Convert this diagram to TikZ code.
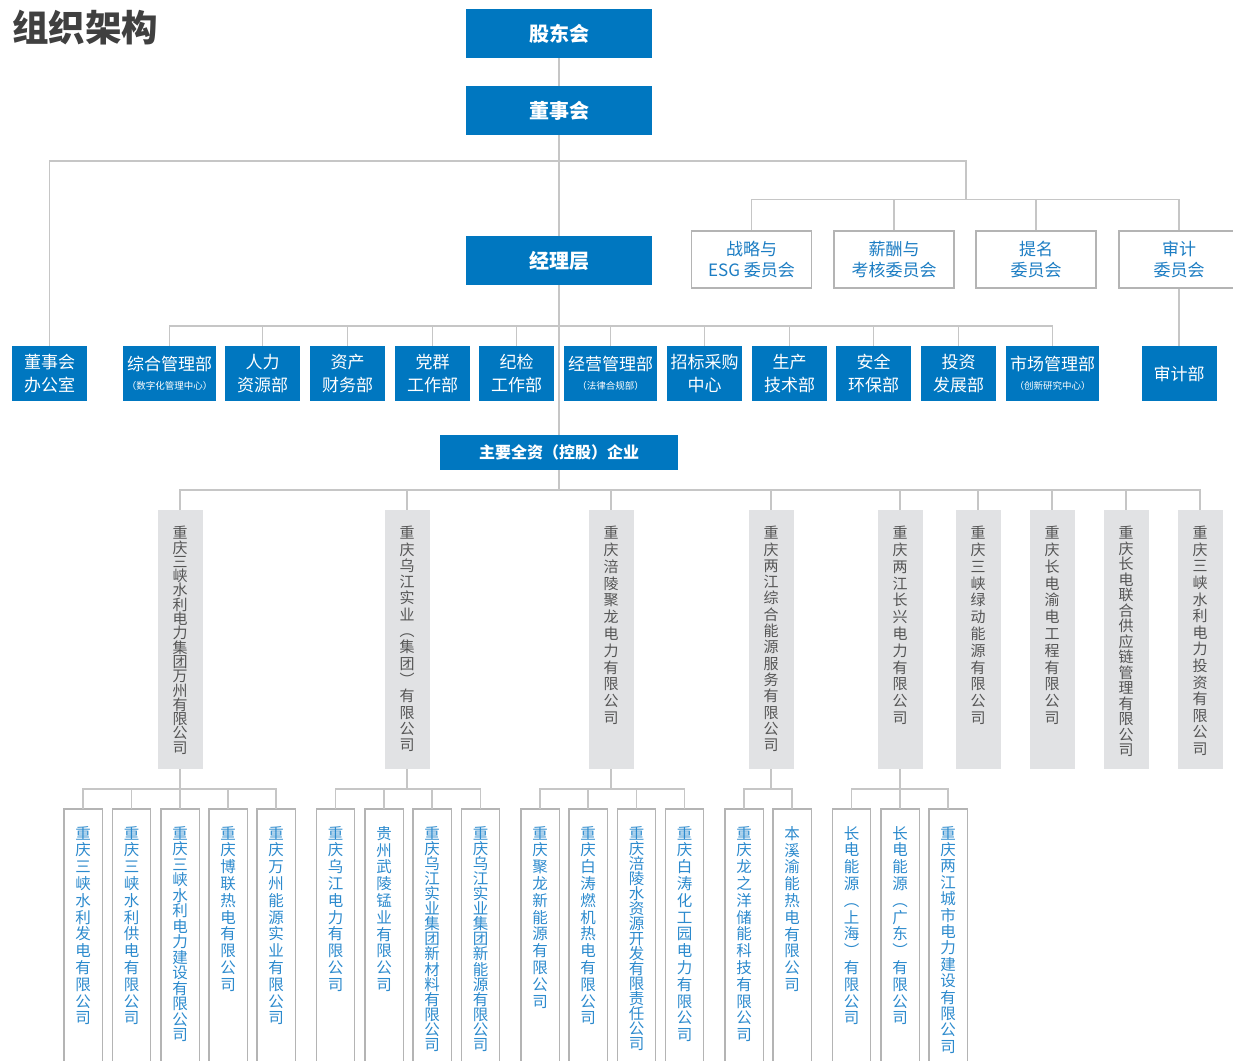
\documentclass[tikz,border=0pt]{standalone}
\usepackage{fontspec}
\setmainfont{Noto Sans CJK SC}
\definecolor{cblue}{HTML}{0077C0}
\definecolor{linegray}{HTML}{C6C6C6}
\definecolor{boxgray}{HTML}{B4B4B4}
\definecolor{ctext}{HTML}{1C7DC3}
\definecolor{subgray}{HTML}{E1E2E4}
\definecolor{subtext}{HTML}{555555}
\definecolor{bottext}{HTML}{2C8ACD}
\definecolor{titlegray}{HTML}{404040}
\def\vtloop#1{\ifx#1\relax\else\hbox to 1em{\hss#1\hss}\expandafter\vtloop\fi}
\newcommand\vtchars[1]{\vtloop#1\relax}
\newcommand\subtxt[2][16.8pt]{\vbox to 259pt{\vskip 16pt\baselineskip=#1\lineskiplimit=-20pt\lineskip=0pt\vtchars{#2}\vss}}
\newcommand\bottxt[2][16.8pt]{\vbox to 260pt{\vskip 17pt\baselineskip=#1\lineskiplimit=-20pt\lineskip=0pt\vtchars{#2}\vss}}
\begin{document}
\begin{tikzpicture}[x=1pt,y=-1pt,
  conn/.style={draw=linegray, line width=1.4pt},
  bluebox/.style={fill=cblue, text=white, inner sep=0pt, align=center},
  topbox/.style={bluebox, minimum width=186pt, minimum height=49pt, font=\bfseries\fontsize{20}{24}\selectfont},
  deptbox/.style={bluebox, minimum height=55pt, font=\fontsize{17}{23}\selectfont},
  commbox/.style={draw=boxgray, line width=1.4pt, fill=white, text=ctext, minimum width=120pt, minimum height=57pt, inner sep=0pt, align=center, font=\fontsize{17}{21}\selectfont},
  subbox/.style={anchor=north, fill=subgray, text=subtext, inner sep=0pt, minimum width=45pt, font=\fontsize{15}{16}\selectfont},
  botbox/.style={anchor=north, text=bottext, inner sep=0pt, minimum width=38pt, font=\fontsize{15.5}{16}\selectfont},
  botline/.style={draw=boxgray, line width=1.4pt},
  small/.style={font=\fontsize{9.5}{10}\selectfont}
]
\useasboundingbox (0,0) rectangle (1233,1060);

% title
\node[anchor=base west, font=\bfseries\fontsize{36.5}{40}\selectfont, text=titlegray, inner sep=0pt] (title) at (12,41.5) {组织架构};

% top boxes
\node[topbox] (gdh) at (559,33.5) {股东会};
\node[topbox] (dsh) at (559,110.5) {董事会};
\node[topbox] (jlc) at (559,260.5) {经理层};

% committees
\node[commbox] (c1) at (751.5,259.5) {战略与\\ESG 委员会};
\node[commbox] (c2) at (894,259.5) {薪酬与\\考核委员会};
\node[commbox] (c3) at (1036,259.5) {提名\\委员会};
\node[commbox] (c4) at (1179,259.5) {审计\\委员会};

% departments
\node[deptbox, minimum width=75pt] (d0) at (49.5,373.5) {董事会\\办公室};
\node[deptbox, minimum width=93pt] (d1) at (169.5,373.5) {综合管理部\\[-4pt]{\fontsize{9.5}{10}\selectfont（数字化管理中心）}};
\node[deptbox, minimum width=75pt] (d2) at (262.5,373.5) {人力\\资源部};
\node[deptbox, minimum width=75pt] (d3) at (347.5,373.5) {资产\\财务部};
\node[deptbox, minimum width=75pt] (d4) at (432.5,373.5) {党群\\工作部};
\node[deptbox, minimum width=75pt] (d5) at (516.5,373.5) {纪检\\工作部};
\node[deptbox, minimum width=93pt] (d6) at (610.5,373.5) {经营管理部\\[-4pt]{\fontsize{9.5}{10}\selectfont（法律合规部）}};
\node[deptbox, minimum width=75pt] (d7) at (704.5,373.5) {招标采购\\中心};
\node[deptbox, minimum width=75pt] (d8) at (789.5,373.5) {生产\\技术部};
\node[deptbox, minimum width=75pt] (d9) at (873.5,373.5) {安全\\环保部};
\node[deptbox, minimum width=75pt] (d10) at (958.5,373.5) {投资\\发展部};
\node[deptbox, minimum width=93pt] (d11) at (1052.5,373.5) {市场管理部\\[-4pt]{\fontsize{9.5}{10}\selectfont（创新研究中心）}};
\node[deptbox, minimum width=75pt] (sjb) at (1179,373.5) {审计部};

% main enterprises
\node[bluebox, minimum width=238pt, minimum height=35pt, font=\bfseries\fontsize{16}{18}\selectfont] (zy) at (559,452.5) {主要全资（控股）企业};

% subsidiaries
\node[subbox] (s1) at (180,510) {\subtxt[14.3pt]{重庆三峡水利电力集团万州有限公司}};
\node[subbox] (s2) at (407,510) {\subtxt[16.3pt]{重庆乌江实业︵集团︶有限公司}};
\node[subbox] (s3) at (611,510) {\subtxt{重庆涪陵聚龙电力有限公司}};
\node[subbox] (s4) at (771,510) {\subtxt[16.3pt]{重庆两江综合能源服务有限公司}};
\node[subbox] (s5) at (900,510) {\subtxt{重庆两江长兴电力有限公司}};
\node[subbox] (s6) at (978,510) {\subtxt{重庆三峡绿动能源有限公司}};
\node[subbox] (s7) at (1052,510) {\subtxt{重庆长电渝电工程有限公司}};
\node[subbox] (s8) at (1126,510) {\subtxt[15.5pt]{重庆长电联合供应链管理有限公司}};
\node[subbox] (s9) at (1200,510) {\subtxt[16.6pt]{重庆三峡水利电力投资有限公司}};

% bottom companies
\node[botbox] (b1) at (83,809) {\bottxt{重庆三峡水利发电有限公司}};
\node[botbox] (b2) at (131.5,809) {\bottxt{重庆三峡水利供电有限公司}};
\node[botbox] (b3) at (180,809) {\bottxt[15.5pt]{重庆三峡水利电力建设有限公司}};
\node[botbox] (b4) at (228,809) {\bottxt{重庆博联热电有限公司}};
\node[botbox] (b5) at (276,809) {\bottxt{重庆万州能源实业有限公司}};
\node[botbox] (b6) at (335.5,809) {\bottxt{重庆乌江电力有限公司}};
\node[botbox] (b7) at (384,809) {\bottxt{贵州武陵锰业有限公司}};
\node[botbox] (b8) at (432,809) {\bottxt[15.1pt]{重庆乌江实业集团新材料有限公司}};
\node[botbox] (b9) at (480.5,809) {\bottxt[15.1pt]{重庆乌江实业集团新能源有限公司}};
\node[botbox] (b10) at (540,809) {\bottxt{重庆聚龙新能源有限公司}};
\node[botbox] (b11) at (588,809) {\bottxt{重庆白涛燃机热电有限公司}};
\node[botbox] (b12) at (636.5,809) {\bottxt[15.0pt]{重庆涪陵水资源开发有限责任公司}};
\node[botbox] (b13) at (684.5,809) {\bottxt{重庆白涛化工园电力有限公司}};
\node[botbox] (b14) at (744,809) {\bottxt{重庆龙之洋储能科技有限公司}};
\node[botbox] (b15) at (792,809) {\bottxt{本溪渝能热电有限公司}};
\node[botbox] (b16) at (851.5,809) {\bottxt{长电能源︵上海︶有限公司}};
\node[botbox] (b17) at (900,809) {\bottxt{长电能源︵广东︶有限公司}};
\node[botbox] (b18) at (948,809) {\bottxt[16.4pt]{重庆两江城市电力建设有限公司}};

\foreach \b in {b1,b2,b3,b4,b5,b6,b7,b8,b9,b10,b11,b12,b13,b14,b15,b16,b17,b18}
  \draw[botline] (\b.south west) -- (\b.north west) -- (\b.north east) -- (\b.south east);

% bus coordinates
\coordinate (busB) at (966,161);
\coordinate (busC) at (966,199.5);
\coordinate (busD) at (559,326);
\coordinate (busE) at (559,490);
\coordinate (g1) at (180,789);
\coordinate (g2) at (407,789);
\coordinate (g3) at (611,789);
\coordinate (g4) at (771,789);
\coordinate (g5) at (900,789);

% connectors
\draw[conn] (gdh.south) -- (dsh.north);
\draw[conn] (dsh.south) -- (jlc.north);
\draw[conn] (d0.north) |- (busB) -- (busC);
\foreach \c in {c1,c2,c3,c4} \draw[conn] (busC) -| (\c.north);
\draw[conn] (c4.south) -- (sjb.north);
\draw[conn] (jlc.south) -- (zy.north);
\foreach \d in {d1,d2,d3,d4,d5,d6,d7,d8,d9,d10,d11} \draw[conn] (busD) -| (\d.north);
\draw[conn] (zy.south) -- (busE);
\foreach \s in {s1,s2,s3,s4,s5,s6,s7,s8,s9} \draw[conn] (busE) -| (\s.north);
\draw[conn] (s1.south) -- (g1);
\draw[conn] (s2.south) -- (g2);
\draw[conn] (s3.south) -- (g3);
\draw[conn] (s4.south) -- (g4);
\draw[conn] (s5.south) -- (g5);
\foreach \b in {b1,b2,b3,b4,b5} \draw[conn] (g1) -| (\b.north);
\foreach \b in {b6,b7,b8,b9} \draw[conn] (g2) -| (\b.north);
\foreach \b in {b10,b11,b12,b13} \draw[conn] (g3) -| (\b.north);
\foreach \b in {b14,b15} \draw[conn] (g4) -| (\b.north);
\foreach \b in {b16,b17,b18} \draw[conn] (g5) -| (\b.north);
\end{tikzpicture}
\end{document}
